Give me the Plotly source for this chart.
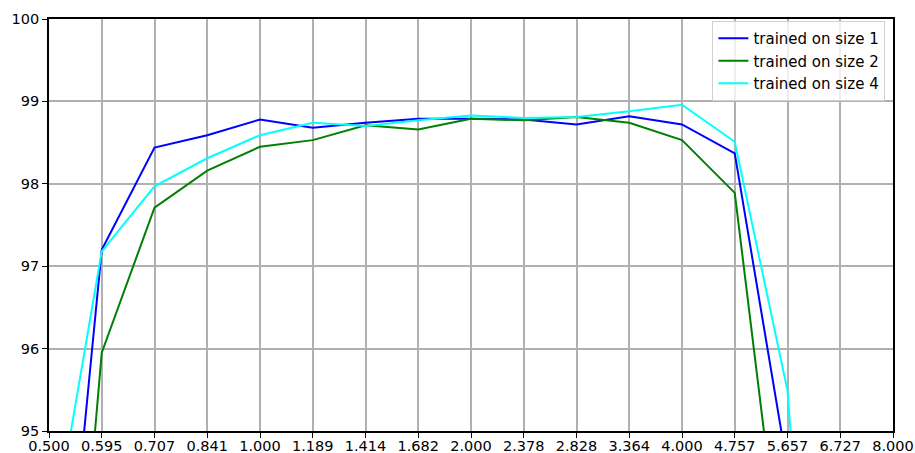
import plotly.graph_objects as go

# Scale factors (quarter-octave steps from 0.5 to 8)
scales = [0.5, 0.5946, 0.7071, 0.8409, 1.0, 1.1892, 1.4142, 1.6818, 2.0,
          2.3784, 2.8284, 3.3636, 4.0, 4.7568, 5.6569, 6.7272, 8.0]
tick_labels = ["0.500", "0.595", "0.707", "0.841", "1.000", "1.189", "1.414",
               "1.682", "2.000", "2.378", "2.828", "3.364", "4.000", "4.757",
               "5.657", "6.727", "8.000"]
y_ticks = [95, 96, 97, 98, 99, 100]

# Accuracy (%) per evaluation scale
acc_size1 = [90.6, 97.20, 98.44, 98.59, 98.78, 98.68, 98.74, 98.79, 98.79,
             98.78, 98.72, 98.82, 98.72, 98.37, 94.55]
acc_size2 = [88.5, 95.95, 97.71, 98.16, 98.45, 98.53, 98.71, 98.66, 98.79,
             98.77, 98.81, 98.74, 98.53, 97.89, 92.66]
acc_size4 = [93.45, 97.18, 97.97, 98.31, 98.59, 98.74, 98.70, 98.77, 98.83,
             98.80, 98.81, 98.88, 98.96, 98.51, 95.49, 87.0]

series = [
    ("trained on size 1", acc_size1, "#0000ff"),
    ("trained on size 2", acc_size2, "#008000"),
    ("trained on size 4", acc_size4, "#00ffff"),
]

fig = go.Figure()
for name, vals, color in series:
    fig.add_trace(go.Scatter(
        x=scales[:len(vals)], y=vals, mode="lines", name=name,
        line=dict(color=color, width=2),
    ))

font = dict(family="DejaVu Sans", size=14.5, color="black")

fig.update_layout(
    width=915, height=453,
    margin=dict(l=49, r=22, t=19, b=22),
    paper_bgcolor="white", plot_bgcolor="white",
    font=font,
    showlegend=True,
    legend=dict(
        x=0.991, y=0.995, xanchor="right", yanchor="top",
        bgcolor="rgba(255,255,255,0.8)", bordercolor="#d0d0d0", borderwidth=1,
        font=dict(family="DejaVu Sans", size=15, color="black"),
        itemwidth=30,
    ),
)

axis_style = dict(
    showgrid=True, gridcolor="#b0b0b0", gridwidth=1.6,
    showline=True, linecolor="black", linewidth=1.8, mirror=True,
    ticks="outside", ticklen=5, tickwidth=1.4, tickcolor="black",
    zeroline=False, tickfont=font, automargin=False,
)

fig.update_xaxes(
    type="log", range=[-0.30103, 0.90309],
    tickmode="array", tickvals=scales, ticktext=tick_labels,
    ticklabelstandoff=-4,
    **axis_style,
)
fig.update_yaxes(
    range=[95, 100], tickmode="array", tickvals=y_ticks,
    **axis_style,
)

fig.write_html("out.html")
